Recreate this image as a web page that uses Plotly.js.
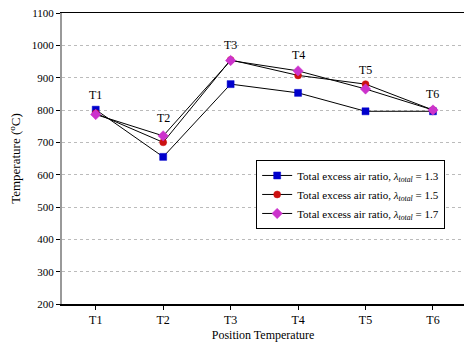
<!DOCTYPE html>
<html><head><meta charset="utf-8">
<script src="https://cdn.plot.ly/plotly-3.0.1.min.js"></script>
<style>html,body{margin:0;padding:0;background:#fff}#chart{width:464px;height:343px}</style>
</head><body><div id="chart"></div>
<script>
var positions = ["T1","T2","T3","T4","T5","T6"];
var temp13 = [801, 655, 880, 853, 796, 796];
var temp15 = [790, 700, 955, 907, 880, 800];
var temp17 = [786, 720, 953, 921, 865, 800];
var seriesNames = [
  "Total excess air ratio, <i>λ</i><sub><i>total</i></sub> = 1.3",
  "Total excess air ratio, <i>λ</i><sub><i>total</i></sub> = 1.5",
  "Total excess air ratio, <i>λ</i><sub><i>total</i></sub> = 1.7"
];
var labelY = [847, 776, 1002, 971, 925, 850];

var font = "Liberation Serif";
function tr(y, name, sym, col) {
  return {x: positions, y: y, name: name, type: "scatter", mode: "lines+markers",
    line: {color: "#000", width: 1},
    marker: {symbol: sym, size: sym === "diamond" ? 8 : 7, color: col, line: {color: col, width: 0.5}}};
}
var data = [
  tr(temp13, seriesNames[0], "square", "#0000cc"),
  tr(temp15, seriesNames[1], "circle", "#cc1111"),
  tr(temp17, seriesNames[2], "diamond", "#cc33cc")
];
var annotations = positions.map(function(p, i){
  return {x: p, y: labelY[i], text: p, showarrow: false, font: {family: font, size: 12, color: "#000"}};
});
var layout = {
  width: 464, height: 343,
  margin: {l: 62, r: 0, t: 13, b: 39},
  paper_bgcolor: "#fff", plot_bgcolor: "#fff",
  font: {family: font, color: "#000"},
  showlegend: true,
  legend: {x: 0.483, y: 0.495, xanchor: "left", yanchor: "top",
    bordercolor: "#000", borderwidth: 1, bgcolor: "#fff",
    font: {family: font, size: 11}, tracegroupgap: 0},
  xaxis: {type: "category", range: [-0.5, 5.46], showgrid: false, zeroline: false,
    showline: true, linecolor: "#000", linewidth: 1.5, mirror: true,
    ticks: "outside", ticklen: 4, tickcolor: "#000",
    tickfont: {family: font, size: 12},
    title: {text: "Position Temperature", font: {family: font, size: 12}, standoff: 4}},
  yaxis: {range: [200, 1100], dtick: 100, showgrid: true, gridcolor: "#bbb", griddash: "dot", gridwidth: 1,
    zeroline: false, showline: true, linecolor: "#999", linewidth: 2,
    ticks: "outside", ticklen: 4, tickcolor: "#000",
    tickfont: {family: font, size: 11},
    title: {text: "Temperature (<sup>o</sup>C)", font: {family: font, size: 13}, standoff: 8}},
  annotations: annotations
};
Plotly.newPlot("chart", data, layout, {displayModeBar: false, staticPlot: true});
</script></body></html>
